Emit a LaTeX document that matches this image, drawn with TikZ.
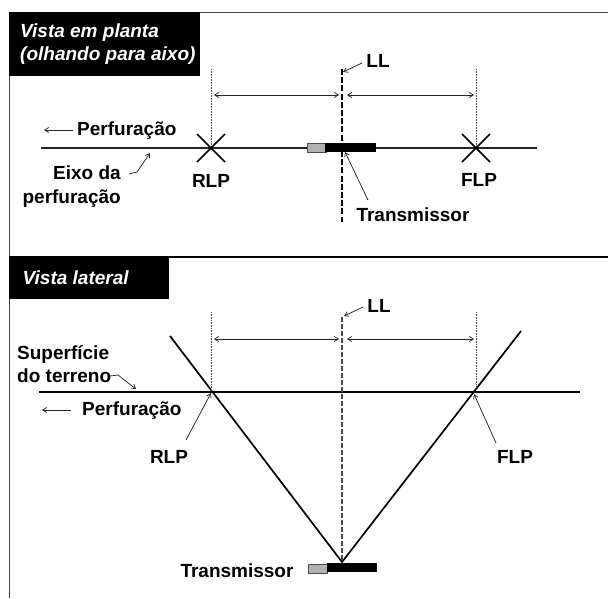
\documentclass[tikz,border=0pt]{standalone}
\usepackage{fontspec}
\setmainfont{Liberation Sans}
\usetikzlibrary{arrows.meta}
\tikzset{
  x=1pt,y=-1pt,
  lbl/.style={font=\fontsize{19}{23}\selectfont\bfseries,text=black,inner sep=0pt,align=left},
  ttl/.style={font=\fontsize{19}{23}\selectfont\bfseries\itshape,text=white,inner sep=0pt,align=left,anchor=west},
  frameline/.style={draw=black!75,line width=1.1pt},
  hdr/.style={fill=black,draw=none},
  thin arrow/.style={draw=black!85,line width=0.75pt,-{Straight Barb[length=4pt,width=5pt]}},
  dim/.style={draw=black!85,line width=0.75pt,{Straight Barb[length=4pt,width=5pt]}-{Straight Barb[length=4pt,width=5pt]}},
  dotline/.style={draw=black!70,line width=0.7pt,dash pattern=on 0.8pt off 0.8pt},
  dashline/.style={draw=black,line width=1.3pt,dash pattern=on 6pt off 2.2pt},
  cross/.style={draw=black,line width=1.6pt},
  axisline/.style={draw=black!85,line width=1.4pt},
  ground/.style={draw=black,line width=2.3pt},
  vline/.style={draw=black,line width=1.7pt},
  txgray/.style={fill=black!30,draw=black!70,line width=0.7pt},
  txblack/.style={fill=black,draw=none},
}
\begin{document}
\begin{tikzpicture}
\useasboundingbox (0,0) rectangle (608,598);
\fill[white] (0,0) rectangle (608,598);
% frames
\draw[frameline] (200,12.5) -- (608,12.5);
\draw[frameline] (9.5,76) -- (9.5,598);
\draw[draw=black,line width=2.2pt] (9,257) -- (608,257);
\node[hdr,inner sep=0pt,anchor=north west,minimum width=191pt,minimum height=64pt] (h1) at (9,12) {};
\node[hdr,inner sep=0pt,anchor=north west,minimum width=160pt,minimum height=43pt] (h2) at (9,256) {};
\node[ttl] (t1) at (20,44.5) {Vista em planta\\(olhando para aixo)};
\node[ttl] (t2) at (22.5,278) {Vista lateral};
% ---------- plan view
\coordinate (pa) at (41,148); \coordinate (pb) at (537,148);
\draw[axisline] (pa) -- (pb);
\coordinate (rlpT) at (211,148); \coordinate (flpT) at (476,148);
\coordinate (rtop) at (211,69); \coordinate (ftop) at (476,69);
\draw[dotline] (rtop) -- (rlpT);
\draw[dotline] (ftop) -- (flpT);
\draw[cross] (197,134) -- (225,162); \draw[cross] (225,134) -- (197,162);
\draw[cross] (462,134) -- (490,162); \draw[cross] (490,134) -- (462,162);
\node[txgray,inner sep=0pt,anchor=north west,minimum width=19pt,minimum height=9pt] (gt) at (306.5,143) {};
\node[txblack,inner sep=0pt,anchor=north west,minimum width=51pt,minimum height=9pt] (bt) at (325,143) {};
\coordinate (lla) at (342,69); \coordinate (llb) at (342,222);
\draw[dashline] (lla) -- (llb);
\coordinate (d1) at (214,95); \coordinate (d2) at (339,95); \coordinate (d3) at (347,95); \coordinate (d4) at (474,95);
\draw[dim] (d1) -- (d2);
\draw[dim] (d3) -- (d4);
\node[lbl] (llT) at (378,61) {LL};
\coordinate (llTa) at (343,72);
\draw[thin arrow] (362,63) -- (llTa);
\node[lbl,anchor=west] (perfT) at (77,131) {Perfuração};
\coordinate (perfTa) at (44,130);
\draw[thin arrow] (73,130) -- (perfTa);
\node[lbl,align=right,anchor=east,font=\fontsize{19}{24}\selectfont\bfseries] (eixo) at (121,187) {Eixo da\\perfuração};
\draw[thin arrow] (129,174) -- (137,172) -- (150,153);
\node[lbl] (rlpL) at (211,181) {RLP};
\node[lbl] (flpL) at (479,180) {FLP};
\node[lbl] (txT) at (413,215) {Transmissor};
\draw[thin arrow] (368,200) -- (345,152);
% ---------- side view
\coordinate (ga) at (39,392); \coordinate (gb) at (580,392);
\draw[ground] (ga) -- (gb);
\coordinate (vl) at (170,336); \coordinate (vb) at (342,562); \coordinate (vr) at (521,331);
\draw[vline] (vl) -- (vb) -- (vr);
\draw[dotline] (211,312) -- (211,392);
\draw[dotline] (476,312) -- (476,390);
\draw[dashline,draw=black!70,dash pattern=on 5pt off 2pt] (342,317) -- (vb);
\draw[dim] (214,339) -- (339,339);
\draw[dim] (347,339) -- (474,339);
\node[lbl] (llS) at (379,306) {LL};
\draw[thin arrow] (363,307) -- (344,316);
\node[lbl,anchor=west] (sup) at (17,364.5) {Superfície\\do terreno};
\draw[thin arrow] (110,376) -- (118,375) -- (136,389);
\node[lbl,anchor=west] (perfS) at (82,411) {Perfuração};
\draw[thin arrow] (71,410) -- (42,410);
\node[lbl] (rlpS) at (169,457) {RLP};
\draw[thin arrow] (186,440) -- (211,393);
\node[lbl] (flpS) at (515,457) {FLP};
\draw[thin arrow] (496,443) -- (474,394);
\node[lbl] (txS) at (237,571) {Transmissor};
\node[txgray,inner sep=0pt,anchor=north west,minimum width=19pt,minimum height=9pt] (gs) at (307.5,563.5) {};
\node[txblack,inner sep=0pt,anchor=north west,minimum width=50pt,minimum height=9pt] (bs) at (327,563) {};
\end{tikzpicture}
\end{document}
